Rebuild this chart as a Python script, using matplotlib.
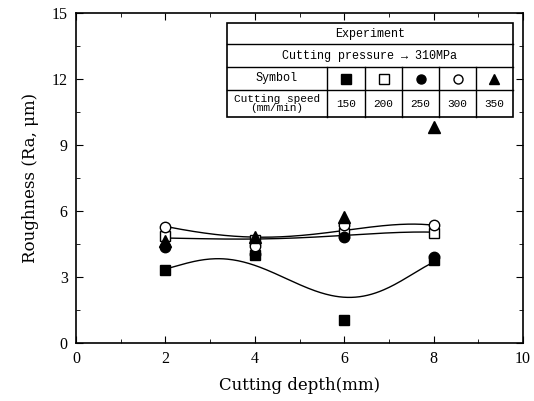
import numpy as np
import matplotlib
matplotlib.use("Agg")
import matplotlib.pyplot as plt
from matplotlib.lines import Line2D
from matplotlib.patches import Rectangle

depth = [2, 4, 6, 8]
speeds = ["150", "200", "250", "300", "350"]
r150 = [3.3, 4.0, 1.05, 3.77]
r200 = [4.85, 4.7, 5.0, 5.0]
r250 = [4.35, 4.05, 4.83, 3.92]
r300 = [5.29, 4.4, 5.36, 5.36]
r350 = [4.65, 4.83, 5.74, 9.8]

# trend curves
curve_x = [2.0, 2.4, 3.22, 3.89, 4.64, 5.38, 6.05, 6.87, 7.62, 8.0]
curve_low = [3.35, 3.62, 3.77, 3.65, 3.0, 2.33, 2.03, 2.49, 3.17, 3.7]
trend_x = [2, 3, 4, 5, 6, 7, 8]
trend_a = [5.29, 5.0, 4.76, 4.9, 5.14, 5.33, 5.36]
trend_b = [4.77, 4.74, 4.72, 4.78, 4.9, 5.0, 5.04]

plt.rcParams['font.family'] = ['Liberation Serif', 'DejaVu Serif']
fig = plt.figure(figsize=(5.34, 4.01), dpi=100)
W, H = 534, 401
L, R, T, B = 76, 523, 13, 343
ax = fig.add_axes([L / W, 1 - B / H, (R - L) / W, (B - T) / H])

xs = np.linspace(2, 8, 200)
for cx_, cy_, deg in ((curve_x, curve_low, 5), (trend_x, trend_a, 4), (trend_x, trend_b, 4)):
    c = np.polyfit(cx_, cy_, deg)
    ax.plot(xs, np.polyval(c, xs), color='black', lw=1.0, zorder=2)

styles = [
    (r150, 's', 'black', 7),
    (r200, 's', 'white', 7),
    (r250, 'o', 'black', 7.5),
    (r300, 'o', 'white', 7.5),
    (r350, '^', 'black', 8),
]
for vals, m, fc, ms in styles:
    ax.plot(depth, vals, linestyle='none', marker=m, mfc=fc, mec='black',
            mew=1.0, ms=ms, zorder=3)

ax.set_xlim(0, 10)
ax.set_ylim(0, 15)
ax.set_xticks([0, 2, 4, 6, 8, 10])
ax.set_xticks([1, 3, 5, 7, 9], minor=True)
ax.set_yticks([0, 3, 6, 9, 12, 15])
ax.set_yticks([1.5, 4.5, 7.5, 10.5, 13.5], minor=True)
ax.tick_params(direction='in', which='both', top=True, right=True,
               labelsize=11.5, pad=6)
ax.tick_params(which='major', length=5)
ax.tick_params(which='minor', length=3)
for s in ax.spines.values():
    s.set_linewidth(1.2)
ax.set_xlabel('Cutting depth(mm)', fontsize=12, family=['DejaVu Serif'], labelpad=7)
ax.set_ylabel('Roughness (Ra, μm)', fontsize=12, family=['DejaVu Serif'], labelpad=9)

# table (pixel coords -> axes fraction)
def fx(px):
    return (px - L) / (R - L)

def fy(py):
    return (B - py) / (B - T)

tl, tr = 227, 513
rows = [23, 44, 67, 90, 117]
cols = [327, 365, 402, 439, 476]
lk = dict(color='black', lw=1.0, transform=ax.transAxes, zorder=5, clip_on=False)
ax.add_patch(Rectangle((fx(tl), fy(rows[-1])), fx(tr) - fx(tl), fy(rows[0]) - fy(rows[-1]),
                       transform=ax.transAxes, facecolor='white', edgecolor='black',
                       lw=1.2, zorder=4))
for ry in rows[1:-1]:
    ax.add_line(Line2D([fx(tl), fx(tr)], [fy(ry), fy(ry)], **lk))
for cx in cols:
    ax.add_line(Line2D([fx(cx), fx(cx)], [fy(rows[2]), fy(rows[4])], **lk))

mono = ['Liberation Mono', 'DejaVu Sans Mono']
tk = dict(transform=ax.transAxes, ha='center', va='center', family=mono,
          fontsize=8.5, zorder=6)
midx = (fx(tl) + fx(tr)) / 2
ax.text(midx, fy((rows[0] + rows[1]) / 2), 'Experiment', **tk)
ax.text(midx, fy((rows[1] + rows[2]) / 2), 'Cutting pressure → 310MPa', **tk)
ax.text((fx(tl) + fx(cols[0])) / 2, fy((rows[2] + rows[3]) / 2), 'Symbol', **tk)
tk2 = dict(tk, fontsize=8)
ax.text((fx(tl) + fx(cols[0])) / 2, fy((rows[3] + rows[4]) / 2),
        'Cutting speed\n(mm/min)', linespacing=0.95, **tk2)
edges = cols + [tr]
for i, (vals, m, fc, ms) in enumerate(styles):
    cx = (fx(edges[i]) + fx(edges[i + 1])) / 2
    ax.plot([cx], [fy((rows[2] + rows[3]) / 2)], marker=m, mfc=fc, mec='black',
            mew=1.0, ms=6.5, transform=ax.transAxes, zorder=6, clip_on=False)
    ax.text(cx, fy((rows[3] + rows[4]) / 2), speeds[i], **tk2)

fig.savefig('out.png', dpi=100)
